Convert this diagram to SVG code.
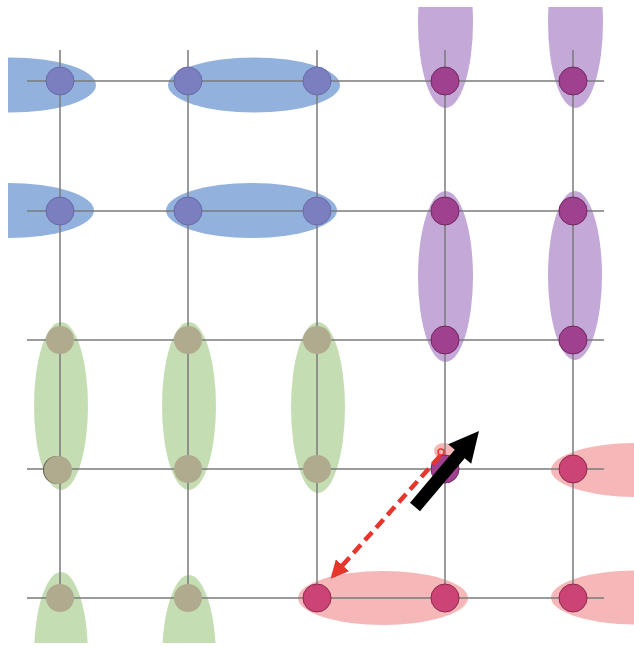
<svg xmlns="http://www.w3.org/2000/svg" width="634" height="647" viewBox="0 0 634 647">
<defs>
<clipPath id="frame"><rect x="8" y="7" width="626" height="636"/></clipPath>
<marker id="redHead" viewBox="0 0 10 10" refX="8" refY="5" markerWidth="4" markerHeight="4" orient="auto" markerUnits="strokeWidth">
<path d="M0,0 L10,5 L0,10 z" fill="#e8352c"/>
</marker>
<style>
.grid{stroke:#7a7a7a;stroke-width:1.5;fill:none}
.eb{fill:#92b2dd}
.ep{fill:#c4a9d8}
.eg{fill:#c5ddb3}
.er{fill:#f6b7b9}
.nb{fill:#7b7fbf;stroke:#6a6aa8;stroke-width:1}
.np{fill:#a0418f;stroke:#70285f;stroke-width:1}
.ng{fill:#b0ab8f}
.nr{fill:#cc4476;stroke:#8c2a4c;stroke-width:1}
</style>
</defs>
<rect width="634" height="647" fill="#ffffff"/>
<g id="clusters" clip-path="url(#frame)">
<ellipse class="eb" cx="10" cy="85" rx="86" ry="27.5"/>
<ellipse class="eb" cx="254" cy="85" rx="86" ry="27.5"/>
<ellipse class="eb" cx="8" cy="210.5" rx="86" ry="27.5"/>
<ellipse class="eb" cx="251.5" cy="210.5" rx="85.5" ry="27.5"/>
<ellipse class="ep" cx="445.5" cy="22.5" rx="27.5" ry="85.5"/>
<ellipse class="ep" cx="575.5" cy="22.5" rx="27.5" ry="85.5"/>
<ellipse class="ep" cx="445.5" cy="276.5" rx="27.5" ry="85.5"/>
<ellipse class="ep" cx="575" cy="275.5" rx="27" ry="84.5"/>
<ellipse class="eg" cx="61" cy="406" rx="27" ry="84"/>
<ellipse class="eg" cx="189" cy="406" rx="27" ry="84"/>
<ellipse class="eg" cx="318" cy="407.5" rx="27" ry="85.5"/>
<ellipse class="eg" cx="61" cy="656" rx="27" ry="84"/>
<ellipse class="eg" cx="189" cy="659" rx="27" ry="84"/>
<ellipse class="er" cx="383" cy="598" rx="85" ry="27"/>
<ellipse class="er" cx="636" cy="470" rx="85" ry="27"/>
<ellipse class="er" cx="636" cy="597.5" rx="85" ry="27"/>
<ellipse class="er" cx="444" cy="451" rx="10" ry="8"/>
</g>
<g id="grid">
<line class="grid" x1="27" y1="81" x2="604" y2="81"/>
<line class="grid" x1="27" y1="211" x2="604" y2="211"/>
<line class="grid" x1="27" y1="340" x2="604" y2="340"/>
<line class="grid" x1="27" y1="469" x2="604" y2="469"/>
<line class="grid" x1="27" y1="598" x2="604" y2="598"/>
<line class="grid" x1="60" y1="50" x2="60" y2="598"/>
<line class="grid" x1="188" y1="50" x2="188" y2="598"/>
<line class="grid" x1="317" y1="50" x2="317" y2="598"/>
<line class="grid" x1="445" y1="50" x2="445" y2="598"/>
<line class="grid" x1="573" y1="50" x2="573" y2="598"/>
</g>
<g id="nodes">
<g id="n-1-1"><circle class="nb" cx="60" cy="81" r="14"/></g>
<g id="n-1-2"><circle class="nb" cx="188" cy="81" r="14"/></g>
<g id="n-1-3"><circle class="nb" cx="317" cy="81" r="14"/></g>
<g id="n-1-4"><circle class="np" cx="445" cy="81" r="14"/></g>
<g id="n-1-5"><circle class="np" cx="573" cy="81" r="14"/></g>
<g id="n-2-1"><circle class="nb" cx="60" cy="211" r="14"/></g>
<g id="n-2-2"><circle class="nb" cx="188" cy="211" r="14"/></g>
<g id="n-2-3"><circle class="nb" cx="317" cy="211" r="14"/></g>
<g id="n-2-4"><circle class="np" cx="445" cy="211" r="14"/></g>
<g id="n-2-5"><circle class="np" cx="573" cy="211" r="14"/></g>
<g id="n-3-1"><circle class="ng" cx="60" cy="340" r="14"/></g>
<g id="n-3-2"><circle class="ng" cx="188" cy="340" r="14"/></g>
<g id="n-3-3"><circle class="ng" cx="317" cy="340" r="14"/></g>
<g id="n-3-4"><circle class="np" cx="445" cy="340" r="14"/></g>
<g id="n-3-5"><circle class="np" cx="573" cy="340" r="14"/></g>
<g id="n-4-1"><circle cx="57" cy="470" r="14" fill="#5a5a52"/><circle class="ng" cx="58" cy="470" r="14"/></g>
<g id="n-4-2"><circle class="ng" cx="188" cy="469" r="14"/></g>
<g id="n-4-3"><circle class="ng" cx="317" cy="469" r="14"/></g>
<g id="n-4-4"><circle class="np" cx="445" cy="469" r="14"/></g>
<g id="n-4-5"><circle class="nr" cx="573" cy="469" r="14"/></g>
<g id="n-5-1"><circle class="ng" cx="60" cy="598" r="14"/></g>
<g id="n-5-2"><circle class="ng" cx="188" cy="598" r="14"/></g>
<g id="n-5-3"><circle class="nr" cx="317" cy="598" r="14"/></g>
<g id="n-5-4"><circle class="nr" cx="445" cy="598" r="14"/></g>
<g id="n-5-5"><circle class="nr" cx="573" cy="598" r="14"/></g>
</g>
<g id="connectors">
<path d="M410,502.8 L454.7,449.8 L448.2,444.3 L479,431 L471.2,463.7 L464.7,458.2 L420,511.2 z" fill="#000000"/>
<line x1="440" y1="456" x2="333" y2="576" stroke="#e8352c" stroke-width="4.5" stroke-dasharray="11 6" marker-end="url(#redHead)"/>
<circle cx="441" cy="452" r="3" fill="none" stroke="#e8352c" stroke-width="1.5"/>
</g>
</svg>
